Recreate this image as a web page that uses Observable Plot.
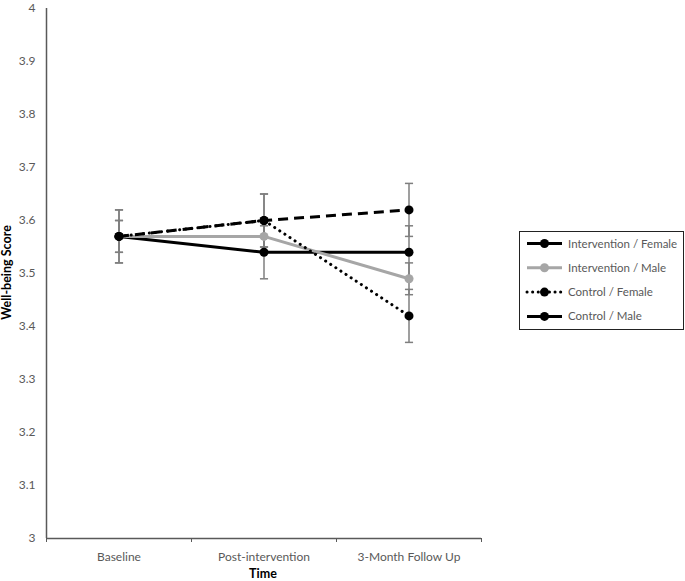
<!DOCTYPE html>
<html>
<head>
<meta charset="utf-8">
<script src="https://cdn.jsdelivr.net/npm/d3@7"></script>
<script src="https://cdn.jsdelivr.net/npm/@observablehq/plot@0.6"></script>
<style>
  html, body { margin: 0; padding: 0; background: #fff; }
  #chart { position: relative; width: 685px; height: 581px; }
</style>
</head>
<body>
<div id="chart"></div>
<script>
const times = ["Baseline", "Post-intervention", "3-Month Follow Up"];
const seriesNames = ["Intervention / Female", "Intervention / Male", "Control / Female", "Control / Male"];
const yTicks = [3, 3.1, 3.2, 3.3, 3.4, 3.5, 3.6, 3.7, 3.8, 3.9, 4];

const intFemale = [3.57, 3.54, 3.54];
const intMale = [3.57, 3.57, 3.49];
const ctrlFemale = [3.57, 3.60, 3.42];
const ctrlMale = [3.57, 3.60, 3.62];

const intFemaleErr = [0.03, 0.05, 0.05];
const intMaleErr = [0.03, 0.03, 0.03];
const ctrlFemaleErr = [0.05, 0.05, 0.05];
const ctrlMaleErr = [0.05, 0.05, 0.05];

const styles = {
  "Intervention / Female": {stroke: "#000000", dash: null},
  "Intervention / Male": {stroke: "#a6a6a6", dash: null},
  "Control / Female": {stroke: "#000000", dash: "0.1 6"},
  "Control / Male": {stroke: "#000000", dash: "10 6"}
};

const valueSets = [intFemale, intMale, ctrlFemale, ctrlMale];
const errSets = [intFemaleErr, intMaleErr, ctrlFemaleErr, ctrlMaleErr];

const rows = [];
seriesNames.forEach((s, si) => {
  times.forEach((t, ti) => {
    rows.push({series: s, x: ti, time: t, y: valueSets[si][ti], err: errSets[si][ti]});
  });
});

const cap = 0.028;
const font = "Lato, 'Open Sans', sans-serif";

const marks = [
  Plot.ruleX(rows, {x: "x", y1: d => d.y - d.err, y2: d => d.y + d.err, stroke: "#7f7f7f", strokeWidth: 1.5}),
  Plot.link(rows, {x1: d => d.x - cap, x2: d => d.x + cap, y1: d => d.y - d.err, y2: d => d.y - d.err, stroke: "#7f7f7f", strokeWidth: 1.5}),
  Plot.link(rows, {x1: d => d.x - cap, x2: d => d.x + cap, y1: d => d.y + d.err, y2: d => d.y + d.err, stroke: "#7f7f7f", strokeWidth: 1.5}),
];
seriesNames.forEach(s => {
  const st = styles[s];
  const data = rows.filter(r => r.series === s);
  const isDot = st.dash && st.dash.startsWith("0.1");
  marks.push(Plot.line(data, {x: "x", y: "y", stroke: st.stroke, strokeWidth: 3, strokeDasharray: st.dash, strokeLinecap: isDot ? "round" : "butt"}));
  marks.push(Plot.dot(data, {x: "x", y: "y", r: 4.5, fill: st.stroke, stroke: "none"}));
});
marks.push(
  Plot.axisY({ticks: yTicks, tickSize: 0, tickPadding: 11, tickFormat: d => String(+d.toFixed(1)), fontSize: 12, color: "#595959", label: null}),
  Plot.axisX({ticks: [0, 1, 2], tickSize: 0, tickPadding: 14, tickFormat: i => times[i], fontSize: 12, color: "#595959", label: null}),
  Plot.axisX({ticks: [-0.5, 0.5, 1.5, 2.5], tickSize: 4, tickFormat: () => "", stroke: "#595959", label: null}),
  Plot.ruleY([3], {stroke: "#595959", strokeWidth: 1.5}),
  Plot.ruleX([-0.5], {stroke: "#595959", strokeWidth: 1.5})
);

const plot = Plot.plot({
  width: 685,
  height: 581,
  marginLeft: 46,
  marginRight: 204,
  marginTop: 8,
  marginBottom: 43,
  style: {fontFamily: font, background: "#fff", overflow: "visible"},
  x: {type: "linear", domain: [-0.5, 2.5]},
  y: {domain: [3, 4]},
  marks
});

const svg = d3.select(plot);
svg.append("text").attr("x", 263).attr("y", 578).attr("text-anchor", "middle")
  .attr("font-family", font).attr("font-size", 12.5).attr("font-weight", "bold").attr("fill", "#000").text("Time");
svg.append("text").attr("transform", "translate(11,272.5) rotate(-90)").attr("text-anchor", "middle")
  .attr("font-family", font).attr("font-size", 12.5).attr("font-weight", "bold").attr("fill", "#000").text("Well-being Score");

const lg = svg.append("g").attr("text-anchor", "start");
lg.append("rect").attr("x", 519.5).attr("y", 231.5).attr("width", 164).attr("height", 98)
  .attr("fill", "#fff").attr("stroke", "#222").attr("stroke-width", 1);
seriesNames.forEach((s, i) => {
  const st = styles[s];
  const yy = 243.5 + i * 24.3;
  const isDot = st.dash && st.dash.startsWith("0.1");
  lg.append("line").attr("x1", 527).attr("x2", 562).attr("y1", yy).attr("y2", yy)
    .attr("stroke", st.stroke).attr("stroke-width", 3)
    .attr("stroke-dasharray", isDot ? "0.1 5.5" : null)
    .attr("stroke-linecap", isDot ? "round" : "butt");
  lg.append("circle").attr("cx", 544.5).attr("cy", yy).attr("r", 4.5).attr("fill", st.stroke);
  lg.append("text").attr("x", 568).attr("y", yy).attr("dy", "0.35em").attr("text-anchor", "start")
    .attr("font-family", font).attr("font-size", 11.5).attr("fill", "#595959").text(s);
});

document.getElementById("chart").appendChild(plot);
</script>
</body>
</html>
